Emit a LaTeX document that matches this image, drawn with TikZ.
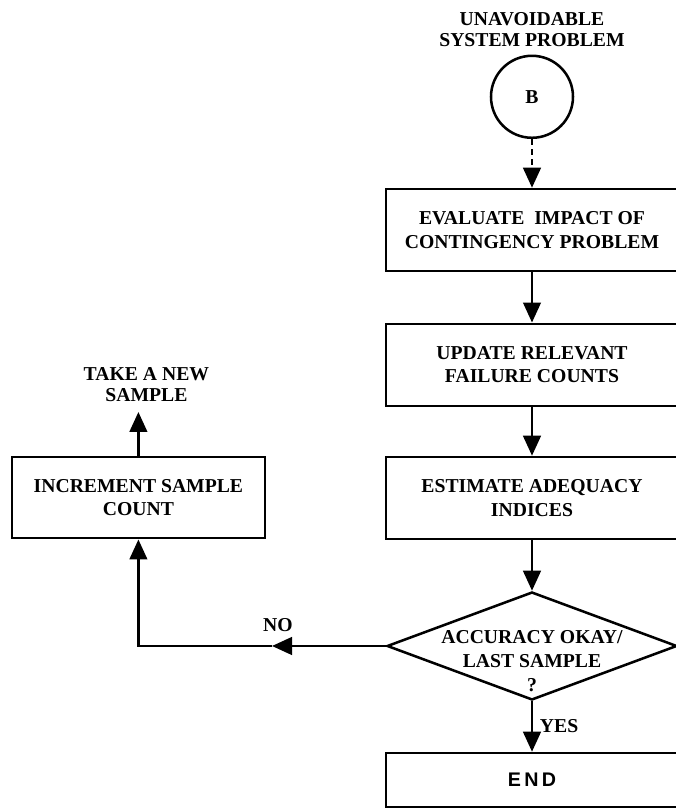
\documentclass[tikz,border=0pt]{standalone}
\usepackage{fontspec}
\setmainfont{Liberation Serif}
\newfontfamily\endfont{Liberation Sans}
\usetikzlibrary{
	arrows.meta,
	positioning,
	shapes.geometric
}

\begin{document}
\begin{tikzpicture}[
		>={Triangle[length=5mm,width=4.4mm]},
		line width=1.8pt,
		process/.style={
			draw,
			minimum width=7.3cm,
			minimum height=2.05cm,
			align=center,
			font=\fontsize{14}{16.5}\selectfont\bfseries
		},
		decision/.style={
			diamond,
			draw,
			minimum width=7.25cm,
			minimum height=2.7cm,
			inner sep=0pt
		},
		connector/.style={
			circle,
			draw,
			minimum size=2.05cm,
			inner sep=0pt,
			font=\fontsize{14}{16.5}\selectfont\bfseries
		},
		note/.style={
			align=center,
			font=\fontsize{14}{15}\selectfont\bfseries
		}
		]
		\useasboundingbox (0,0) rectangle (16.9,20.2);
		
		% Start
		\node[connector] (bcirc) at (13.3,17.78) {B};
		\node[note, above=0.5mm of bcirc] (start) {UNAVOIDABLE\\SYSTEM PROBLEM};
		
		% Main column
		\node[process] (evaluate) at (13.3,14.45) {EVALUATE\ \ IMPACT OF\\CONTINGENCY PROBLEM};
		\node[process] (update) at (13.3,11.08) {UPDATE RELEVANT\\FAILURE COUNTS};
		\node[process] (estimate) at (13.3,7.75) {ESTIMATE ADEQUACY\\INDICES};
		\node[decision] (check) at (13.3,4.05) {};
		\node[note, font=\fontsize{14}{17}\selectfont\bfseries] (checktext) at ([yshift=-3.7mm]check.center) {ACCURACY OKAY/\\LAST SAMPLE\\?};
		\node[process, minimum height=1.35cm] (stop) at (13.3,0.7) {\endfont\bfseries E\,N\,D};
		
		% Loop back
		\node[process, minimum width=6.33cm, minimum height=2.03cm] (increment) at (3.46,7.76) {INCREMENT SAMPLE\\COUNT};
		\coordinate (newsample) at (3.46,9.9);
		\node[note, above=1mm of newsample, xshift=2mm] (newtext) {TAKE A NEW\\SAMPLE};
		\coordinate (noarrow) at (6.8,4.05);
		
		% Connections
		\draw[->, dash pattern=on 1.5mm off 1mm] (bcirc.south) -- (evaluate.north);
		\draw[->] (evaluate) -- (update);
		\draw[->] (update) -- (estimate);
		\draw[->] (estimate) -- (check.north);
		\draw[->] (check.south) -- node[note, right=0.5mm, pos=0.5] (yes) {YES} (stop.north);
		\draw[->] (check.west) -- (noarrow);
		\draw[->] (noarrow) -| (increment.south);
		\draw[->] (increment.north) -- (newsample);
		
		\node[note, above=2mm of noarrow, xshift=1.5mm] (no) {NO};
		
	\end{tikzpicture}
\end{document}
